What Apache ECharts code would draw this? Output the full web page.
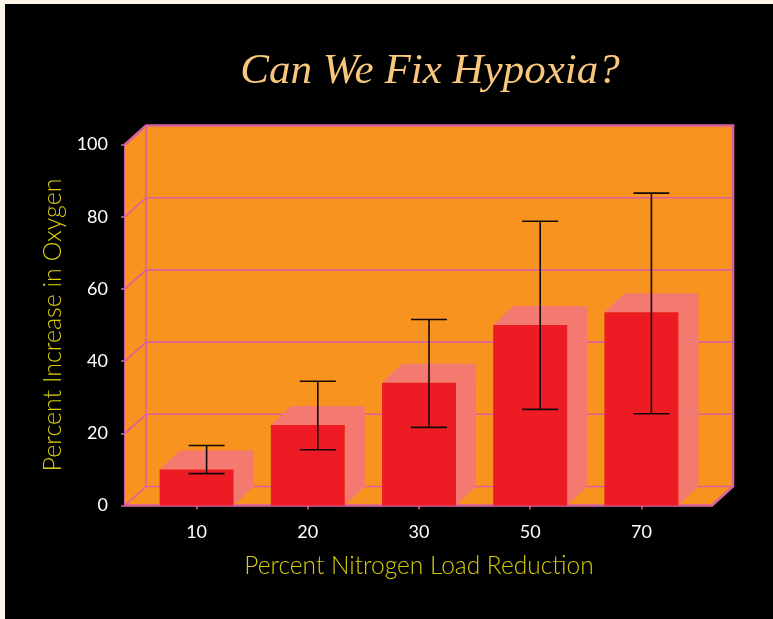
<!DOCTYPE html>
<html>
<head>
<meta charset="utf-8">
<script src="https://cdn.jsdelivr.net/npm/echarts@6/dist/echarts.min.js"></script>
<style>
html,body{margin:0;padding:0;background:#fdf6e8;}
#chart{width:773px;height:619px;}
</style>
</head>
<body>
<div id="chart"></div>
<script>
// ---- data ----
const categories = ['10', '20', '30', '50', '70'];
const meanIncrease = [10, 22.3, 34, 50, 53.5];
const errorLow = [6.2, 12.8, 19, 24, 22.8];
const errorHigh = [14, 31.8, 48.9, 76.1, 83.9];
const yTickValues = [0, 20, 40, 60, 80, 100];

const titleText = 'Can We Fix Hypoxia?';
const xTitle = 'Percent Nitrogen Load Reduction';
const yTitle = 'Percent Increase in Oxygen';

// ---- styles ----
const WALL = '#f7931e';
const EDGE = '#d9619f';
const BAR_FRONT = '#ed1c24';
const BAR_SIDE = '#f47971';
const YELLOW = '#d8cc0c';

const chart = echarts.init(document.getElementById('chart'), null, {renderer: 'canvas'});

function renderFrame(params, api) {
  const cs = params.coordSys;
  const L = cs.x - 16, R = cs.x + cs.width + 15;
  const y0 = api.coord([0, yTickValues[0]])[1];
  const yT = api.coord([0, yTickValues[yTickValues.length - 1]])[1];
  const dx = 21, dy = -19;
  const children = [];
  children.push({type: 'polygon', shape: {points: [[L + dx, y0 + dy], [R + dx, y0 + dy], [R + dx, yT + dy], [L + dx, yT + dy]]}, style: {fill: WALL}});
  children.push({type: 'polygon', shape: {points: [[L, y0], [L + dx, y0 + dy], [L + dx, yT + dy], [L, yT]]}, style: {fill: WALL}});
  children.push({type: 'polygon', shape: {points: [[L, y0], [R, y0], [R + dx, y0 + dy], [L + dx, y0 + dy]]}, style: {fill: WALL}});
  yTickValues.slice(1, -1).forEach(function (v) {
    const y = api.coord([0, v])[1];
    children.push({type: 'polyline', shape: {points: [[L, y], [L + dx, y + dy], [R + dx, y + dy]]}, style: {stroke: EDGE, lineWidth: 1.6, fill: null}});
  });
  children.push({type: 'polyline', shape: {points: [[L, y0], [L + dx, y0 + dy], [R + dx, y0 + dy]]}, style: {stroke: EDGE, lineWidth: 1.6, fill: null}});
  children.push({type: 'polyline', shape: {points: [[L + dx, y0 + dy], [L + dx, yT + dy]]}, style: {stroke: EDGE, lineWidth: 1.6, fill: null}});
  children.push({type: 'polyline', shape: {points: [[L, yT], [L + dx, yT + dy], [R + dx, yT + dy], [R + dx, y0 + dy], [R, y0], [L, y0]]}, style: {stroke: EDGE, lineWidth: 2.6, fill: null, lineJoin: 'miter'}});
  return {type: 'group', children: children};
}

function renderBar(params, api) {
  const i = api.value(0), v = api.value(1);
  const top = api.coord([i, v]);
  const base = api.coord([i, 0]);
  const w = api.size([1, 0])[0] * 0.665;
  const x1 = top[0] - w / 2, x2 = top[0] + w / 2, yv = top[1], y0 = base[1];
  const dx = 20, dy = -19;
  return {type: 'group', children: [
    {type: 'polygon', shape: {points: [[x2, yv], [x2 + dx, yv + dy], [x2 + dx, y0 + dy], [x2, y0]]}, style: {fill: BAR_SIDE}},
    {type: 'polygon', shape: {points: [[x1, yv], [x2, yv], [x2 + dx, yv + dy], [x1 + dx, yv + dy]]}, style: {fill: BAR_SIDE}},
    {type: 'rect', shape: {x: x1, y: yv, width: w, height: y0 - yv}, style: {fill: BAR_FRONT}}
  ]};
}

function renderError(params, api) {
  const i = api.value(0);
  const lo = api.coord([i, api.value(1)]);
  const hi = api.coord([i, api.value(2)]);
  const ox = 10, oy = -9.5, hw = 18;
  const x = lo[0] + ox;
  const st = {stroke: '#140808', lineWidth: 1.6};
  return {type: 'group', children: [
    {type: 'line', shape: {x1: x, y1: hi[1] + oy, x2: x, y2: lo[1] + oy}, style: st},
    {type: 'line', shape: {x1: x - hw, y1: hi[1] + oy, x2: x + hw, y2: hi[1] + oy}, style: st},
    {type: 'line', shape: {x1: x - hw, y1: lo[1] + oy, x2: x + hw, y2: lo[1] + oy}, style: st}
  ]};
}

const option = {
  backgroundColor: '#fdf6e8',
  animation: false,
  graphic: [{type: 'rect', left: 5, top: 4, shape: {width: 768, height: 615}, style: {fill: '#000'}, z: -10, silent: true}],
  title: {
    text: titleText,
    left: 425,
    top: 45,
    textAlign: 'center',
    textStyle: {color: '#f8c77c', fontFamily: 'Liberation Serif', fontStyle: 'italic', fontWeight: 'normal', fontSize: 43}
  },
  grid: {left: 141, right: 76, top: 144.5, bottom: 113.5},
  xAxis: {
    type: 'category',
    data: categories,
    name: xTitle,
    nameLocation: 'middle',
    nameGap: 48,
    nameTextStyle: {color: YELLOW, fontFamily: 'Lato', fontWeight: 300, fontSize: 24.5},
    axisLine: {show: false},
    axisTick: {show: true, alignWithLabel: true, length: 4, lineStyle: {color: EDGE, width: 1.5}},
    axisLabel: {color: '#ffffff', fontFamily: 'Lato', fontSize: 18, margin: 18},
    splitLine: {show: false}
  },
  yAxis: {
    type: 'value',
    min: yTickValues[0],
    max: yTickValues[yTickValues.length - 1],
    interval: 20,
    offset: 16,
    name: yTitle,
    nameLocation: 'middle',
    nameRotate: 90,
    nameGap: 59,
    nameTextStyle: {color: YELLOW, fontFamily: 'Lato', fontWeight: 300, fontSize: 25},
    axisLine: {show: true, lineStyle: {color: EDGE, width: 2}},
    axisTick: {show: true, length: 4, lineStyle: {color: EDGE, width: 1.5}},
    axisLabel: {color: '#ffffff', fontFamily: 'Lato', fontSize: 18, margin: 17},
    splitLine: {show: false}
  },
  series: [
    {type: 'custom', name: 'frame', renderItem: renderFrame, data: [[0, 0]], z: 1, silent: true},
    {type: 'custom', name: 'bars', renderItem: renderBar, data: categories.map(function (c, i) { return [i, meanIncrease[i]]; }), z: 2},
    {type: 'custom', name: 'errors', renderItem: renderError, data: categories.map(function (c, i) { return [i, errorLow[i], errorHigh[i]]; }), z: 3}
  ]
};
chart.setOption(option);
</script>
</body>
</html>
